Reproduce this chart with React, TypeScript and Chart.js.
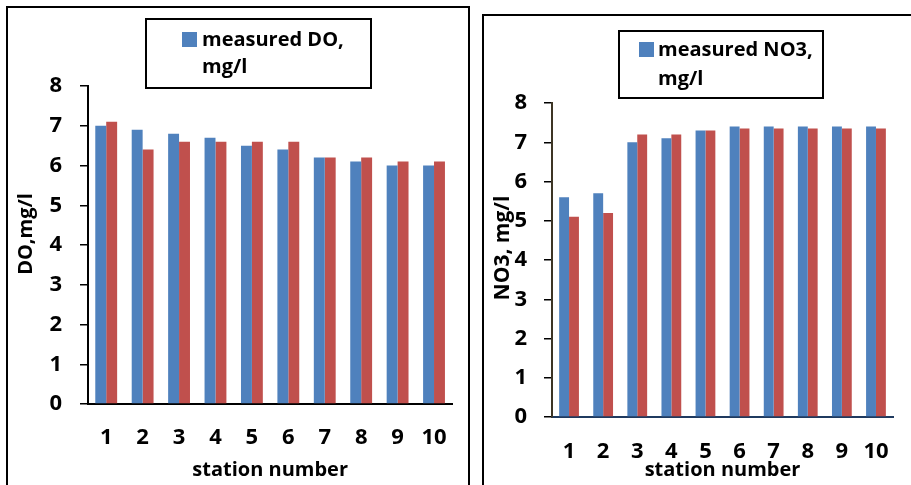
import { useEffect, useRef } from 'react';
import { Chart, registerables } from 'chart.js';

Chart.register(...registerables);

// Station numbers along the x axis
const stations = ['1', '2', '3', '4', '5', '6', '7', '8', '9', '10'];

// Dissolved oxygen, mg/l
const doMeasured = [7.0, 6.9, 6.8, 6.7, 6.5, 6.4, 6.2, 6.1, 6.0, 6.0];
const doCalculated = [7.1, 6.4, 6.6, 6.6, 6.6, 6.6, 6.2, 6.2, 6.1, 6.1];

// Nitrate, mg/l
const no3Measured = [5.6, 5.7, 7.0, 7.1, 7.3, 7.4, 7.4, 7.4, 7.4, 7.4];
const no3Calculated = [5.1, 5.2, 7.2, 7.2, 7.3, 7.35, 7.35, 7.35, 7.35, 7.35];

// Legend and axis texts
const doLegendLines = ['measured DO,', 'mg/l'];
const no3LegendLines = ['measured NO3,', 'mg/l'];
const doAxisTitle = 'DO,mg/l';
const no3AxisTitle = 'NO3, mg/l';
const xAxisTitle = 'station number';

const BLUE = '#4F81BD';
const RED = '#C0504D';
const FONT = '"Open Sans", "DejaVu Sans", sans-serif';
const TICK_SIZE = 22;

type LegendCfg = {
  x: number; y: number; w: number; h: number;
  swatchX: number; swatchY: number; swatch: number;
  textX: number; baseline: number; gap: number;
  lines: string[];
};

function legendBoxPlugin(cfg: LegendCfg) {
  return {
    id: 'legendBox',
    afterDraw(chart: Chart) {
      const ctx = chart.ctx;
      const ds = chart.data.datasets[0] as any;
      ctx.save();
      ctx.fillStyle = '#fff';
      ctx.fillRect(cfg.x, cfg.y, cfg.w, cfg.h);
      ctx.lineWidth = 2;
      ctx.strokeStyle = '#000';
      ctx.strokeRect(cfg.x, cfg.y, cfg.w, cfg.h);
      ctx.fillStyle = ds.backgroundColor;
      ctx.fillRect(cfg.swatchX, cfg.swatchY, cfg.swatch, cfg.swatch);
      ctx.fillStyle = '#000';
      ctx.font = `bold 20px ${FONT}`;
      ctx.textBaseline = 'alphabetic';
      ctx.textAlign = 'left';
      cfg.lines.forEach((t, i) => ctx.fillText(t, cfg.textX, cfg.baseline + i * cfg.gap));
      ctx.restore();
    },
  };
}

function sideTitlePlugin(text: string, cx: number, cy: number, size: number) {
  return {
    id: 'sideTitle',
    afterDraw(chart: Chart) {
      const ctx = chart.ctx;
      ctx.save();
      ctx.translate(cx, cy);
      ctx.rotate(-Math.PI / 2);
      ctx.font = `bold ${size}px ${FONT}`;
      ctx.fillStyle = '#000';
      ctx.textAlign = 'center';
      ctx.textBaseline = 'middle';
      ctx.fillText(text, 0, 0);
      ctx.restore();
    },
  };
}

type PanelProps = {
  left: number; top: number; width: number; height: number;
  measured: number[]; calculated: number[];
  measuredLabel: string; calculatedLabel: string;
  padTop: number; padRight: number; yWidth: number; xHeight: number;
  yTickPad: number; xTickPad: number;
  yBorderColor: string; xBorderColor: string;
  catPct: number;
  legend: LegendCfg;
  yTitle: string; yTitleX: number; yTitleY: number; yTitleSize: number;
};

function BarPanel(p: PanelProps) {
  const ref = useRef<HTMLCanvasElement | null>(null);

  useEffect(() => {
    if (!ref.current) return;
    const chart = new Chart(ref.current, {
      type: 'bar',
      data: {
        labels: stations,
        datasets: [
          { label: p.measuredLabel, data: p.measured, backgroundColor: BLUE, borderWidth: 0 },
          { label: p.calculatedLabel, data: p.calculated, backgroundColor: RED, borderWidth: 0 },
        ],
      },
      options: {
        responsive: false,
        animation: false,
        devicePixelRatio: 1,
        layout: { padding: { left: 0, top: p.padTop, right: p.padRight, bottom: 0 } },
        datasets: { bar: { categoryPercentage: p.catPct, barPercentage: 1 } },
        plugins: {
          legend: { display: false },
          tooltip: { enabled: false },
          title: { display: false },
        },
        scales: {
          x: {
            grid: { display: false, drawTicks: false },
            border: { display: true, color: p.xBorderColor, width: 2 },
            ticks: {
              color: '#000',
              padding: p.xTickPad,
              maxRotation: 0,
              autoSkip: false,
              font: { family: FONT, size: TICK_SIZE, weight: 'bold' },
            },
            title: {
              display: true,
              text: xAxisTitle,
              color: '#000',
              padding: { top: 0, bottom: 3 },
              font: { family: FONT, size: 20, weight: 'bold' },
            },
            afterFit(scale: any) {
              scale.height = p.xHeight;
            },
          },
          y: {
            min: 0,
            max: 8,
            grid: { drawOnChartArea: false, drawTicks: true, tickLength: 8, color: '#000', lineWidth: 1.5 },
            border: { display: true, color: p.yBorderColor, width: 2 },
            ticks: {
              stepSize: 1,
              color: '#000',
              padding: p.yTickPad,
              font: { family: FONT, size: TICK_SIZE, weight: 'bold' },
            },
            afterFit(scale: any) {
              scale.width = p.yWidth;
            },
          },
        },
      },
      plugins: [
        legendBoxPlugin(p.legend),
        sideTitlePlugin(p.yTitle, p.yTitleX, p.yTitleY, p.yTitleSize),
      ],
    } as any);
    return () => chart.destroy();
  }, []);

  return (
    <canvas
      ref={ref}
      width={p.width}
      height={p.height}
      style={{ position: 'absolute', left: p.left, top: p.top, width: p.width, height: p.height }}
    />
  );
}

export default function App() {
  return (
    <div
      style={{
        position: 'absolute',
        left: 0,
        top: 0,
        width: 911,
        height: 485,
        overflow: 'hidden',
        background: '#fff',
      }}
    >
      <div
        style={{
          position: 'absolute',
          left: 6,
          top: 6,
          width: 460,
          height: 500,
          border: '2px solid #000',
        }}
      />
      <div
        style={{
          position: 'absolute',
          left: 482,
          top: 14,
          width: 460,
          height: 500,
          border: '2px solid #000',
        }}
      />
      <BarPanel
        left={9}
        top={9}
        width={459}
        height={476}
        measured={doMeasured}
        calculated={doCalculated}
        measuredLabel="measured DO, mg/l"
        calculatedLabel="calculated DO, mg/l"
        padTop={77}
        padRight={8}
        yWidth={79}
        xHeight={81}
        yTickPad={18}
        xTickPad={21}
        yBorderColor="#000"
        xBorderColor="#000"
        catPct={0.6}
        legend={{
          x: 137, y: 10, w: 225, h: 69,
          swatchX: 173, swatchY: 23, swatch: 15,
          textX: 193, baseline: 37, gap: 27,
          lines: doLegendLines,
        }}
        yTitle={doAxisTitle}
        yTitleX={17}
        yTitleY={225}
        yTitleSize={20}
      />
      <BarPanel
        left={485}
        top={17}
        width={426}
        height={468}
        measured={no3Measured}
        calculated={no3Calculated}
        measuredLabel="measured NO3, mg/l"
        calculatedLabel="calculated NO3, mg/l"
        padTop={86}
        padRight={9}
        yWidth={67}
        xHeight={68}
        yTickPad={17}
        xTickPad={22}
        yBorderColor="#3d3525"
        xBorderColor="#1F3A5F"
        catPct={0.58}
        legend={{
          x: 134, y: 14, w: 204, h: 67,
          swatchX: 154, swatchY: 25, swatch: 15,
          textX: 173, baseline: 39, gap: 29,
          lines: no3LegendLines,
        }}
        yTitle={no3AxisTitle}
        yTitleX={18}
        yTitleY={231}
        yTitleSize={21}
      />
    </div>
  );
}
